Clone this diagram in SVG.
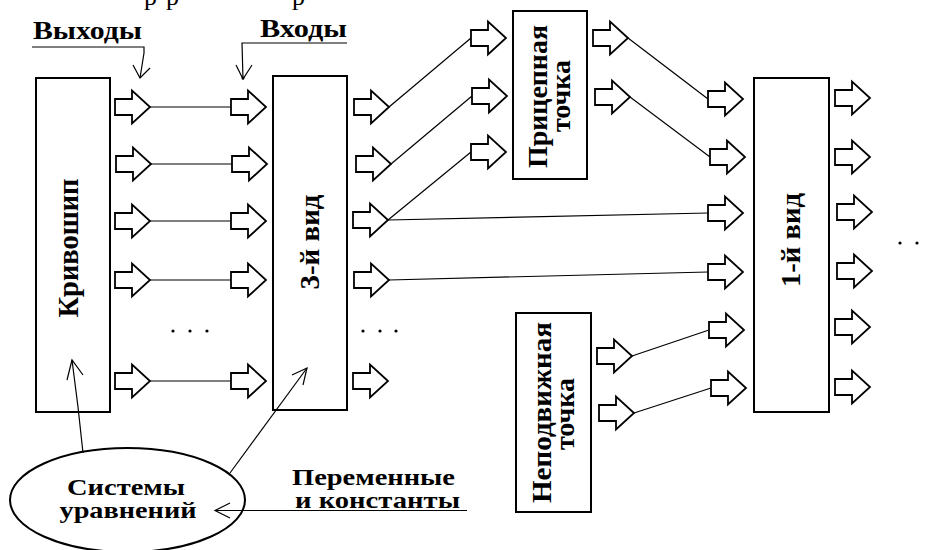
<svg xmlns="http://www.w3.org/2000/svg" xmlns:xlink="http://www.w3.org/1999/xlink" width="929" height="550" viewBox="0 0 929 550">
  <style>
    .box { fill: #fff; stroke: #000; stroke-width: 2; }
    .barrow { fill: #fff; stroke: #000; stroke-width: 1.8; stroke-linejoin: miter; }
    .wire { fill: none; stroke: #000; stroke-width: 1.2; }
    .pointer { fill: none; stroke: #000; stroke-width: 1.2; }
    .lbl { font-family: "Liberation Serif", "Times New Roman", serif; font-weight: bold; fill: #000; }
    .plain { font-family: "Liberation Serif", "Times New Roman", serif; font-weight: normal; fill: #000; }
    .dot { fill: #000; }
  </style>
  <defs>
    <!-- hollow block arrow, origin at the middle of the tail -->
    <path id="ba" class="barrow" d="M0,-8 H17 V-16.5 L35,0 L17,16.5 V8 H0 Z"/>
  </defs>

  <rect width="929" height="550" fill="#fff"/>

  <!-- tail of the preceding text line, cut by the top edge -->
  <text class="plain" font-size="26" y="5"><tspan x="144">р</tspan><tspan x="166">р</tspan><tspan x="292">р</tspan></text>

  <!-- nodes -->
  <g id="crank">
    <rect class="box" x="36" y="78" width="74" height="334"/>
    <text class="lbl" font-size="29" text-anchor="middle" transform="translate(78,248) rotate(-90)" textLength="139" lengthAdjust="spacingAndGlyphs">Кривошип</text>
  </g>
  <g id="view3">
    <rect class="box" x="273" y="76" width="74" height="334"/>
    <text class="lbl" font-size="28" text-anchor="middle" transform="translate(319,242) rotate(-90)" textLength="95" lengthAdjust="spacingAndGlyphs">3-й вид</text>
  </g>
  <g id="view1">
    <rect class="box" x="754" y="78" width="75" height="334"/>
    <text class="lbl" font-size="28" text-anchor="middle" transform="translate(800,240) rotate(-90)" textLength="94" lengthAdjust="spacingAndGlyphs">1-й вид</text>
  </g>
  <g id="hitch-point">
    <rect class="box" x="513" y="11" width="74" height="168"/>
    <text class="lbl" font-size="28" text-anchor="middle" transform="translate(547,96.5) rotate(-90)" textLength="143" lengthAdjust="spacingAndGlyphs">Прицепная</text>
    <text class="lbl" font-size="28" text-anchor="middle" transform="translate(570,96) rotate(-90)" textLength="72" lengthAdjust="spacingAndGlyphs">точка</text>
  </g>
  <g id="fixed-point">
    <rect class="box" x="516" y="313" width="75" height="199"/>
    <text class="lbl" font-size="28" text-anchor="middle" transform="translate(550.5,412.5) rotate(-90)" textLength="181" lengthAdjust="spacingAndGlyphs">Неподвижная</text>
    <text class="lbl" font-size="28" text-anchor="middle" transform="translate(574,414) rotate(-90)" textLength="72" lengthAdjust="spacingAndGlyphs">точка</text>
  </g>
  <g id="equations">
    <ellipse class="box" cx="127.5" cy="500" rx="117.5" ry="52" stroke-width="1.5"/>
    <text class="lbl" font-size="24" x="126" y="495" text-anchor="middle" textLength="118" lengthAdjust="spacingAndGlyphs">Системы</text>
    <text class="lbl" font-size="24" x="128" y="518" text-anchor="middle" textLength="137" lengthAdjust="spacingAndGlyphs">уравнений</text>
  </g>

  <!-- connectors -->
  <g id="connectors">
    <line class="wire" x1="150" y1="107" x2="231" y2="107"/>
    <line class="wire" x1="151" y1="164" x2="232" y2="164"/>
    <line class="wire" x1="150" y1="221" x2="231" y2="221"/>
    <line class="wire" x1="150" y1="280" x2="231" y2="280"/>
    <line class="wire" x1="150" y1="381" x2="231" y2="381"/>

    <line class="wire" x1="389" y1="107" x2="471" y2="38"/>
    <line class="wire" x1="391" y1="164" x2="472" y2="96"/>
    <line class="wire" x1="388" y1="220" x2="471" y2="152"/>
    <line class="wire" x1="388" y1="220" x2="708" y2="213"/>
    <line class="wire" x1="389" y1="280" x2="708" y2="272"/>

    <line class="wire" x1="628" y1="38" x2="708" y2="99"/>
    <line class="wire" x1="630" y1="97" x2="710" y2="157"/>

    <line class="wire" x1="632" y1="356" x2="709" y2="330"/>
    <line class="wire" x1="634" y1="413" x2="711" y2="388"/>

    <!-- label pointers -->
    <polyline class="pointer" points="32,47 144,47 144,53 140,78"/>
    <polyline class="pointer" points="133,65 140,78 150,68"/>
    <polyline class="pointer" points="347,43 242,43 243,79"/>
    <polyline class="pointer" points="236,65 243,79 252,65"/>
    <circle class="dot" cx="243" cy="78" r="1.5"/>

    <polyline class="pointer" points="83,453 78,407 72,360"/>
    <polyline class="pointer" points="67,380 72,360 83,375"/>
    <line class="pointer" x1="230" y1="473" x2="307" y2="368"/>
    <polyline class="pointer" points="292,375 307,368 303,385"/>
    <line class="pointer" x1="467" y1="510.5" x2="215" y2="510.5"/>
    <polyline class="pointer" points="230,503 215,510.5 230,518"/>
  </g>

  <!-- block arrows -->
  <g id="arrows-crank-out">
    <use xlink:href="#ba" x="115" y="107"/>
    <use xlink:href="#ba" x="116" y="164"/>
    <use xlink:href="#ba" x="115" y="221"/>
    <use xlink:href="#ba" x="115" y="280"/>
    <use xlink:href="#ba" x="115" y="381"/>
  </g>
  <g id="arrows-view3-in">
    <use xlink:href="#ba" x="231" y="107"/>
    <use xlink:href="#ba" x="232" y="164"/>
    <use xlink:href="#ba" x="231" y="221"/>
    <use xlink:href="#ba" x="231" y="280"/>
    <use xlink:href="#ba" x="231" y="381"/>
  </g>
  <g id="arrows-view3-out">
    <use xlink:href="#ba" x="354" y="107"/>
    <use xlink:href="#ba" x="356" y="164"/>
    <use xlink:href="#ba" x="353" y="220"/>
    <use xlink:href="#ba" x="354" y="280"/>
    <use xlink:href="#ba" x="353" y="381"/>
  </g>
  <g id="arrows-hitch">
    <use xlink:href="#ba" x="471" y="38"/>
    <use xlink:href="#ba" x="472" y="96"/>
    <use xlink:href="#ba" x="471" y="152"/>
    <use xlink:href="#ba" x="593" y="38"/>
    <use xlink:href="#ba" x="595" y="97"/>
  </g>
  <g id="arrows-view1-in">
    <use xlink:href="#ba" x="708" y="99"/>
    <use xlink:href="#ba" x="710" y="157"/>
    <use xlink:href="#ba" x="708" y="213"/>
    <use xlink:href="#ba" x="708" y="272"/>
    <use xlink:href="#ba" x="709" y="330"/>
    <use xlink:href="#ba" x="711" y="388"/>
  </g>
  <g id="arrows-view1-out">
    <use xlink:href="#ba" x="835" y="98"/>
    <use xlink:href="#ba" x="835" y="157"/>
    <use xlink:href="#ba" x="837" y="212"/>
    <use xlink:href="#ba" x="837" y="271"/>
    <use xlink:href="#ba" x="835" y="327"/>
    <use xlink:href="#ba" x="835" y="387"/>
  </g>
  <g id="arrows-fixed">
    <use xlink:href="#ba" x="597" y="356"/>
    <use xlink:href="#ba" x="599" y="413"/>
  </g>

  <!-- free labels -->
  <g id="labels">
    <text class="lbl" font-size="26" x="33" y="39" textLength="109" lengthAdjust="spacingAndGlyphs">Выходы</text>
    <text class="lbl" font-size="25" x="260" y="37" textLength="87" lengthAdjust="spacingAndGlyphs">Входы</text>
    <text class="lbl" font-size="23" x="292" y="485" textLength="163" lengthAdjust="spacingAndGlyphs">Переменные</text>
    <text class="lbl" font-size="23" x="295" y="508" textLength="165" lengthAdjust="spacingAndGlyphs">и константы</text>
  </g>

  <!-- ellipsis marks -->
  <g id="ellipses">
    <circle class="dot" cx="173" cy="331" r="1.6"/>
    <circle class="dot" cx="190" cy="331" r="1.6"/>
    <circle class="dot" cx="207" cy="331" r="1.6"/>
    <circle class="dot" cx="363" cy="331" r="1.6"/>
    <circle class="dot" cx="380" cy="331" r="1.6"/>
    <circle class="dot" cx="396" cy="331" r="1.6"/>
    <circle class="dot" cx="900" cy="243" r="1.6"/>
    <circle class="dot" cx="917" cy="243" r="1.6"/>
  </g>
</svg>
